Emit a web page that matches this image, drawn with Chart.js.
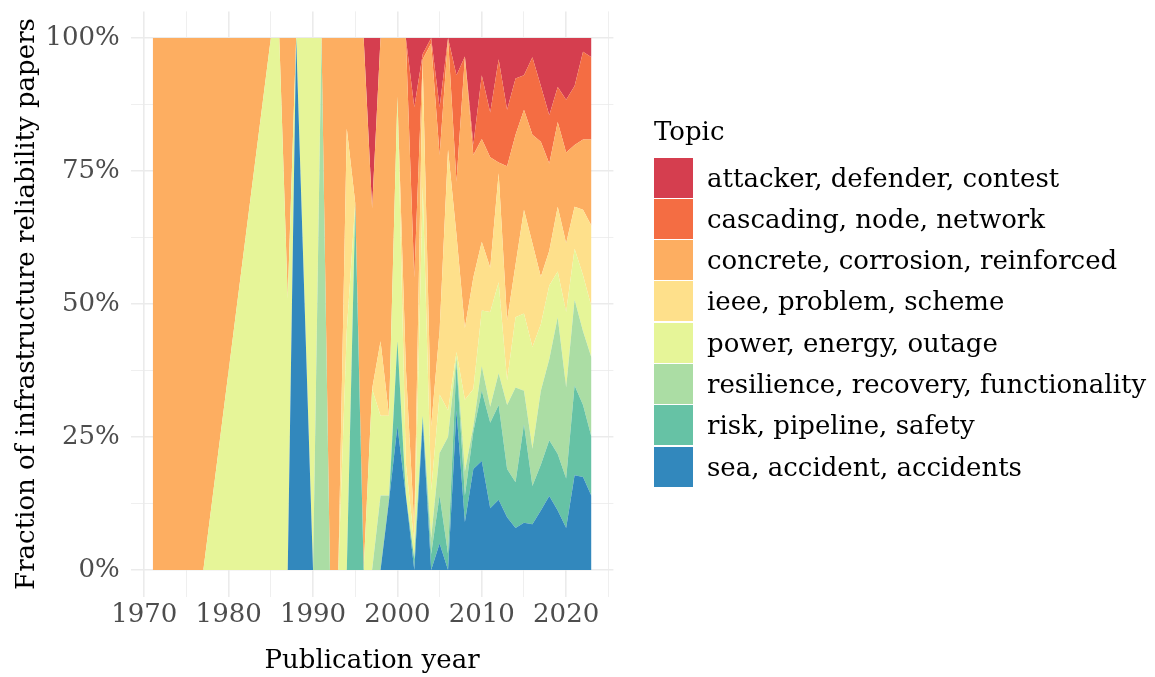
<!DOCTYPE html>
<html>
<head>
<meta charset="utf-8">
<script src="https://cdn.jsdelivr.net/npm/chart.js@4"></script>
<style>
  body { margin: 0; background: #fff; }
  #wrap { position: relative; width: 1155px; height: 677px; }
  #legend { position: absolute; left: 0; top: 0; font-family: 'DejaVu Serif', serif; font-size: 26px; color: #000; }
  #legend .title { position: absolute; left: 654px; top: 116px; white-space: nowrap; }
  #legend .item { position: absolute; left: 654px; height: 40px; white-space: nowrap; }
  #legend .key { position: absolute; left: 0; top: 0; width: 39px; height: 40px; }
  #legend .lab { position: absolute; left: 53px; top: 0; line-height: 40px; }
</style>
</head>
<body>
<div id="wrap">
  <canvas id="chart" width="1155" height="677"></canvas>
  <div id="legend"></div>
</div>
<script>
// publication years that appear in the data
const years = [1971, 1977, 1985, 1986, 1987, 1988, 1989, 1990, 1991, 1992, 1993, 1994, 1995, 1996, 1997, 1998, 1999,
  2000, 2001, 2002, 2003, 2004, 2005, 2006, 2007, 2008, 2009, 2010, 2011, 2012, 2013, 2014, 2015, 2016, 2017, 2018,
  2019, 2020, 2021, 2022, 2023];

// share of papers per topic and year (bottom of the stack first)
const sea = [0, 0, 0, 0, 0, 1, .5, 0, 0, 0, 0, 0, 0, 0, 0, 0, .13,
  .27, .14, 0, .28, 0, .05, 0, .30, .09, .19, .205, .116, .132, .099, .079, .089, .086, .112, .139,
  .112, .079, .178, .175, .139];
const risk = [0, 0, 0, 0, 0, 0, 0, 0, 0, 0, 0, 0, .68, 0, 0, 0, 0,
  .16, 0, .02, .01, .03, .09, .03, .09, .05, .07, .132, .161, .178, .091, .086, .185, .072, .086, .105,
  .106, .093, .169, .135, .111];
const resilience = [0, 0, 0, 0, 0, 0, 0, 0, 1, 0, 0, 0, .01, 0, 0, .14, .01,
  0, 0, 0, 0, .03, .08, .22, .01, .045, .01, .046, .03, .06, .12, .178, .063, .07, .139, .152,
  .257, .171, .161, .139, .149];
const power = [0, 0, 1, 1, .51, 0, .5, 1, 0, 0, 0, .45, 0, 0, .34, .15, .15,
  .46, .06, .03, .43, .09, .11, .05, .01, .135, .07, .105, .178, .171, .046, .132, .145, .191, .125, .139,
  .086, .142, .096, .105, .096];
const ieee = [0, 0, 0, 0, 0, 0, 0, 0, 0, 0, 0, .38, 0, 0, 0, .14, 0,
  0, .18, .03, .23, .12, .12, .49, .22, .135, .21, .129, .083, .205, .113, .099, .195, .195, .089, .065,
  .122, .129, .079, .123, .152];
const concrete = [1, 1, 0, 0, .49, 0, 0, 0, 0, 1, 1, .17, .31, 1, .34, .57, .71,
  .11, .62, .47, .01, .72, .33, .21, .10, .51, .23, .193, .208, .02, .29, .244, .188, .204, .254, .164,
  .159, .171, .116, .132, .162];
const cascading = [0, 0, 0, 0, 0, 0, 0, 0, 0, 0, 0, 0, 0, 0, 0, 0, 0,
  0, 0, .32, .01, .01, .09, 0, .20, 0, .02, .12, .084, .194, .106, .106, .065, .146, .105, .091,
  .066, .099, .111, .165, .155];
const attacker = [0, 0, 0, 0, 0, 0, 0, 0, 0, 0, 0, 0, 0, 0, .32, 0, 0,
  0, 0, .13, .03, 0, .13, 0, .07, .035, .20, .07, .14, .04, .135, .076, .07, .036, .09, .145,
  .092, .116, .09, .026, .036];

// legend order (top of the stack first)
const topics = ['attacker, defender, contest', 'cascading, node, network', 'concrete, corrosion, reinforced',
  'ieee, problem, scheme', 'power, energy, outage', 'resilience, recovery, functionality',
  'risk, pipeline, safety', 'sea, accident, accidents'];
const colors = ['#D53E4F', '#F46D43', '#FDAE61', '#FEE08B', '#E6F598', '#ABDDA4', '#66C2A5', '#3288BD'];
const series = [attacker, cascading, concrete, ieee, power, resilience, risk, sea];

const font = 'DejaVu Serif';

const datasets = [];
for (let i = series.length - 1; i >= 0; i--) {
  datasets.push({
    label: topics[i],
    data: years.map((y, j) => ({ x: y, y: series[i][j] })),
    backgroundColor: colors[i],
    borderColor: 'rgba(0,0,0,0)',
    borderWidth: 0,
    pointRadius: 0,
    tension: 0,
    fill: datasets.length === 0 ? 'origin' : '-1'
  });
}

const isQuarter = v => Math.abs(v * 4 - Math.round(v * 4)) < 1e-9;

new Chart(document.getElementById('chart'), {
  type: 'line',
  data: { datasets },
  options: {
    responsive: false,
    animation: false,
    devicePixelRatio: 1,
    layout: { padding: { left: 0, top: 11.4, right: 541.6, bottom: 0 } },
    plugins: { legend: { display: false }, tooltip: { enabled: false } },
    scales: {
      x: {
        type: 'linear',
        min: 1968.4,
        max: 2025.6,
        afterBuildTicks: s => {
          s.ticks = [1970, 1975, 1980, 1985, 1990, 1995, 2000, 2005, 2010, 2015, 2020, 2025].map(v => ({ value: v }));
        },
        afterFit: s => {
          s.height = 80.4;
          s.paddingLeft = 0;
          s.paddingRight = 0;
        },
        ticks: {
          autoSkip: false,
          maxRotation: 0,
          padding: 3,
          color: '#4d4d4d',
          font: { family: font, size: 26 },
          callback: v => (v % 10 === 0 ? String(v) : '')
        },
        grid: {
          color: '#ebebeb',
          lineWidth: c => (c.tick && c.tick.value % 10 === 0 ? 1.6 : 0.8),
          drawTicks: false
        },
        border: { display: false },
        title: {
          display: true,
          text: 'Publication year',
          color: '#000',
          font: { family: font, size: 26 },
          padding: { top: 0, bottom: 0 }
        }
      },
      y: {
        stacked: true,
        min: -0.05,
        max: 1.05,
        afterBuildTicks: s => {
          s.ticks = [0, 0.125, 0.25, 0.375, 0.5, 0.625, 0.75, 0.875, 1].map(v => ({ value: v }));
        },
        afterFit: s => {
          s.width = 130.8;
          s.paddingTop = 0;
          s.paddingBottom = 0;
        },
        ticks: {
          padding: 11,
          color: '#4d4d4d',
          font: { family: font, size: 26 },
          callback: v => (isQuarter(v) ? Math.round(v * 100) + '%' : '')
        },
        grid: {
          color: '#ebebeb',
          lineWidth: c => (c.tick && isQuarter(c.tick.value) ? 1.6 : 0.8),
          drawTicks: false
        },
        border: { display: false },
        title: {
          display: true,
          text: 'Fraction of infrastructure reliability papers',
          color: '#000',
          font: { family: font, size: 26 },
          padding: { top: 12, bottom: 0 }
        }
      }
    }
  }
});

// legend
const legend = document.getElementById('legend');
const title = document.createElement('div');
title.className = 'title';
title.textContent = 'Topic';
legend.appendChild(title);
topics.forEach((t, i) => {
  const item = document.createElement('div');
  item.className = 'item';
  item.style.top = (157.5 + i * 41.3) + 'px';
  const key = document.createElement('div');
  key.className = 'key';
  key.style.background = colors[i];
  const lab = document.createElement('div');
  lab.className = 'lab';
  lab.textContent = t;
  item.appendChild(key);
  item.appendChild(lab);
  legend.appendChild(item);
});
</script>
</body>
</html>
